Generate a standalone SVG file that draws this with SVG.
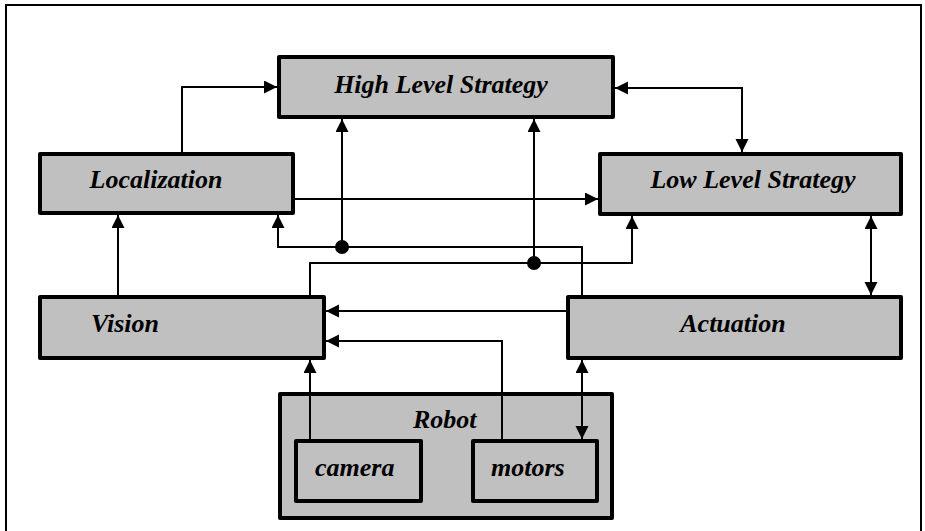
<svg xmlns="http://www.w3.org/2000/svg" width="925" height="531" viewBox="0 0 925 531">
<defs>
<style>
.box{fill:#c0c0c0;stroke:#000;stroke-width:4;stroke-linejoin:round}
.lbl{font-family:"Liberation Serif","Times New Roman",serif;font-weight:bold;font-style:italic;font-size:26px;fill:#000}
.c{fill:none;stroke:#000;stroke-width:2}
.e{marker-end:url(#ah)}
.b{marker-start:url(#ah);marker-end:url(#ah)}
</style>
<marker id="ah" markerUnits="userSpaceOnUse" markerWidth="14" markerHeight="14" refX="13" refY="6.5" orient="auto-start-reverse" viewBox="0 0 14 14">
<path d="M0,0 L13,6.5 L0,13 z" fill="#000"/>
</marker>
</defs>
<rect x="0" y="0" width="925" height="531" fill="#fff"/>
<rect x="6" y="5" width="915" height="540" fill="none" stroke="#000" stroke-width="2"/>
<g id="high-level-strategy">
<rect class="box" x="279" y="57" width="334" height="60"/>
<text class="lbl" x="441" y="93" text-anchor="middle">High Level Strategy</text>
</g>
<g id="localization">
<rect class="box" x="40" y="154" width="253" height="59"/>
<text class="lbl" x="156" y="188" text-anchor="middle">Localization</text>
</g>
<g id="low-level-strategy">
<rect class="box" x="600" y="154" width="301" height="60"/>
<text class="lbl" x="753" y="188" text-anchor="middle">Low Level Strategy</text>
</g>
<g id="vision">
<rect class="box" x="40" y="297" width="284" height="61"/>
<text class="lbl" x="91" y="332">Vision</text>
</g>
<g id="actuation">
<rect class="box" x="568" y="297" width="333" height="61"/>
<text class="lbl" x="733" y="332" text-anchor="middle">Actuation</text>
</g>
<g id="robot">
<rect class="box" x="280" y="394" width="332" height="124"/>
<text class="lbl" x="413" y="428">Robot</text>
</g>
<g id="camera">
<rect class="box" x="296" y="441" width="125" height="60"/>
<text class="lbl" x="315" y="476">camera</text>
</g>
<g id="motors">
<rect class="box" x="473" y="441" width="124" height="60"/>
<text class="lbl" x="491" y="476">motors</text>
</g>
<g id="connectors">
<path class="c e" d="M182,152 V87 H277"/>
<path class="c b" d="M615,88 H742 V152"/>
<path class="c e" d="M295,199 H598"/>
<path class="c e" d="M342,247 V119"/>
<path class="c e" d="M534,263 V119"/>
<path class="c e" d="M582,295 V247 H278 V215"/>
<path class="c e" d="M310,295 V263 H632 V216"/>
<path class="c e" d="M118,295 V215"/>
<path class="c b" d="M871,216 V295"/>
<path class="c e" d="M566,311 H326"/>
<path class="c e" d="M502,439 V341 H326"/>
<path class="c e" d="M310,439 V360"/>
<path class="c b" d="M582,360 V439"/>
<circle cx="342" cy="247" r="7" fill="#000"/>
<circle cx="534" cy="263" r="7" fill="#000"/>
</g>
</svg>
